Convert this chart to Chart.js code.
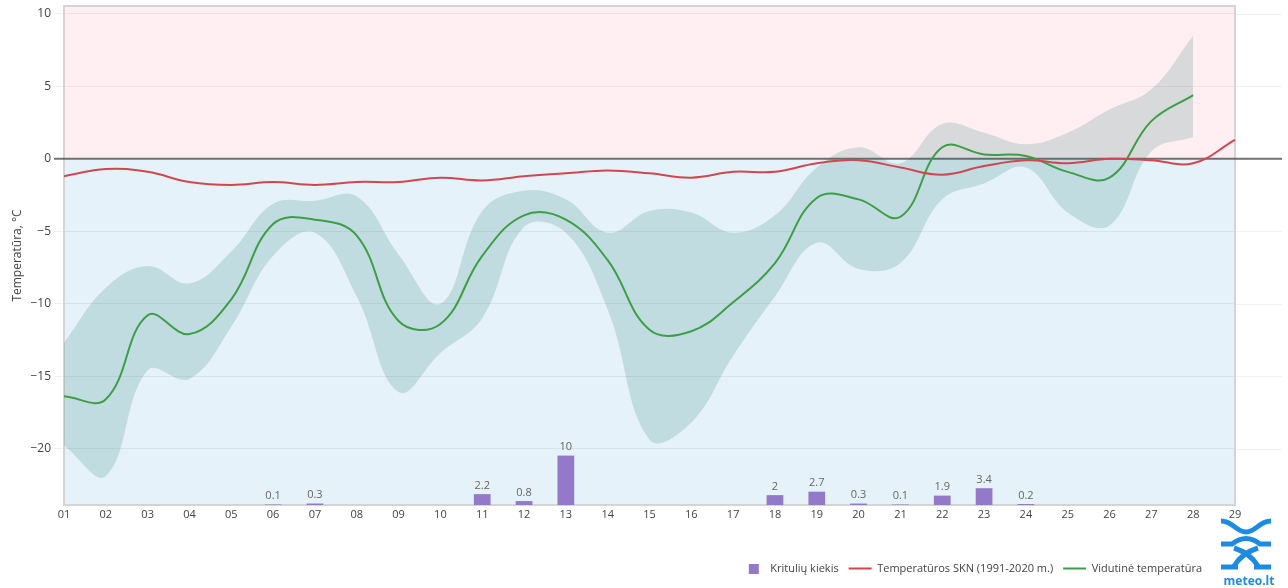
<!DOCTYPE html>
<html>
<head>
<title>Temperatūra ir krituliai</title>
<script src="https://cdn.jsdelivr.net/npm/chart.js"></script>
<style>
  body { margin: 0; background: #fff; }
</style>
</head>
<body>
<canvas id="tempChart" width="1288" height="588"></canvas>
<script>
// Dienos
const days = ['01','02','03','04','05','06','07','08','09','10','11','12','13','14','15',
              '16','17','18','19','20','21','22','23','24','25','26','27','28','29'];

// Kritulių kiekis, mm
const precip = [0, 0, 0, 0, 0, 0.1, 0.3, 0, 0, 0, 2.2, 0.8, 10, 0, 0,
                0, 0, 2, 2.7, 0.3, 0.1, 1.9, 3.4, 0.2, 0, 0, 0, 0, 0];

// Temperatūros SKN (1991-2020 m.)
const normTemp = [-1.2, -0.7, -0.9, -1.6, -1.8, -1.6, -1.8, -1.6, -1.6, -1.3, -1.5, -1.2, -1.0, -0.8, -1.0,
                  -1.3, -0.9, -0.9, -0.3, -0.1, -0.6, -1.1, -0.5, -0.1, -0.3, 0.0, -0.1, -0.3, 1.3];

// Vidutinė temperatūra
const meanTemp = [-16.4, -16.6, -10.8, -12.1, -9.7, -4.5, -4.2, -5.3, -11.2, -11.4, -6.7, -3.9, -4.2, -7.0, -11.8,
                  -11.9, -9.9, -7.2, -2.7, -2.8, -4.0, 0.8, 0.3, 0.2, -0.9, -1.3, 2.6, 4.4, null];

// Maksimali / minimali temperatūra (juosta)
const maxTemp = [-12.7, -8.9, -7.4, -8.6, -6.4, -3.1, -2.9, -2.6, -6.6, -10.0, -3.6, -2.2, -2.8, -5.1, -3.6,
                 -3.7, -5.1, -3.9, -0.6, 0.8, -0.3, 2.4, 1.8, 1.0, 1.8, 3.4, 4.8, 8.5, null];
const minTemp = [-19.8, -21.9, -14.6, -15.2, -11.6, -6.7, -5.1, -9.5, -16.1, -13.4, -11.0, -4.7, -5.1, -10.4, -19.4,
                 -18.2, -13.6, -9.5, -5.8, -7.6, -7.2, -2.8, -1.7, -0.6, -3.7, -4.6, 0.5, 1.5, null];

const yTicks = [-20, -15, -10, -5, 0, 5, 10];

const barColor = '#9479c9';
const minus = v => (v < 0 ? '\u2212' + Math.abs(v) : String(v));

// legendos kvadratėlis krituliams
const legendSquare = document.createElement('canvas');
legendSquare.width = 23;
legendSquare.height = 10;
const sqCtx = legendSquare.getContext('2d');
sqCtx.fillStyle = barColor;
sqCtx.fillRect(7, 0, 10, 10);

// fonas, tinklelis, nulio linija, stulpelių reikšmės, logotipas
const decorPlugin = {
    id: 'decor',
    afterLayout(chart) {
        // legenda baigiasi prieš logotipą
        chart.legend.left -= 23;
        chart.legend.right -= 23;
    },
    beforeDraw(chart) {
        const {ctx, chartArea: a, scales: {y}} = chart;
        const z = y.getPixelForValue(0);
        ctx.save();
        ctx.fillStyle = '#ffeef2';
        ctx.fillRect(a.left, a.top, a.width, z - a.top);
        ctx.fillStyle = '#e5f2f9';
        ctx.fillRect(a.left, z, a.width, a.bottom - z);
        ctx.restore();
    },
    beforeDatasetsDraw(chart) {
        const {ctx, chartArea: a, scales: {y}} = chart;
        ctx.save();
        ctx.strokeStyle = 'rgba(0,0,0,0.06)';
        ctx.lineWidth = 1;
        yTicks.forEach(t => {
            const py = Math.round(y.getPixelForValue(t)) + 0.5;
            ctx.beginPath();
            ctx.moveTo(a.right, py);
            ctx.lineTo(chart.width - 6, py);
            ctx.stroke();
        });
        ctx.strokeStyle = '#d4d4d4';
        ctx.lineWidth = 2;
        ctx.strokeRect(a.left, a.top, a.width, a.height);
        const z = y.getPixelForValue(0);
        ctx.strokeStyle = 'rgba(70,70,70,0.75)';
        ctx.lineWidth = 2;
        ctx.beginPath();
        ctx.moveTo(a.left - 10, z);
        ctx.lineTo(chart.width - 6, z);
        ctx.stroke();
        ctx.restore();
    },
    afterDatasetsDraw(chart) {
        const {ctx} = chart;
        const meta = chart.getDatasetMeta(0);
        ctx.save();
        ctx.font = '11px "Open Sans"';
        ctx.fillStyle = '#666';
        ctx.textAlign = 'center';
        ctx.textBaseline = 'bottom';
        meta.data.forEach((bar, i) => {
            if (precip[i] > 0) ctx.fillText(String(precip[i]), bar.x, bar.y - 3);
        });
        ctx.restore();
    },
    afterDraw(chart) {
        const {ctx} = chart;
        ctx.save();
        ctx.strokeStyle = '#1e8be3';
        ctx.lineWidth = 5;
        ctx.beginPath();
        ctx.moveTo(1221, 521);
        ctx.bezierCurveTo(1233, 521, 1236, 532, 1246, 532);
        ctx.bezierCurveTo(1256, 532, 1259, 521, 1271, 521);
        ctx.stroke();
        ctx.beginPath();
        ctx.moveTo(1221, 544);
        ctx.lineTo(1232, 544);
        ctx.quadraticCurveTo(1246, 533, 1260, 544);
        ctx.lineTo(1271, 544);
        ctx.stroke();
        ctx.beginPath();
        ctx.moveTo(1234, 548);
        ctx.quadraticCurveTo(1250, 553, 1258, 566);
        ctx.moveTo(1258, 548);
        ctx.quadraticCurveTo(1242, 553, 1234, 566);
        ctx.stroke();
        ctx.beginPath();
        ctx.moveTo(1221, 567);
        ctx.lineTo(1238, 567);
        ctx.moveTo(1254, 567);
        ctx.lineTo(1271, 567);
        ctx.stroke();
        ctx.font = 'bold 12px "Open Sans"';
        ctx.fillStyle = '#1e8be3';
        ctx.textAlign = 'center';
        ctx.textBaseline = 'alphabetic';
        ctx.fillText('meteo.lt', 1249, 585);
        ctx.restore();
    }
};

new Chart(document.getElementById('tempChart'), {
    type: 'bar',
    data: {
        labels: days,
        datasets: [{
            type: 'bar',
            label: 'Kritulių kiekis',
            data: precip,
            yAxisID: 'y2',
            backgroundColor: barColor,
            borderWidth: 0,
            barPercentage: 0.4,
            categoryPercentage: 1,
            order: 0
        }, {
            type: 'line',
            label: 'Temperatūros SKN (1991-2020 m.)',
            data: normTemp,
            borderColor: '#d2474f',
            borderWidth: 2,
            pointRadius: 0,
            tension: 0.4,
            fill: false,
            order: 1
        }, {
            type: 'line',
            label: 'Vidutinė temperatūra',
            data: meanTemp,
            borderColor: '#3c9e45',
            borderWidth: 2,
            pointRadius: 0,
            tension: 0.4,
            fill: false,
            order: 2
        }, {
            type: 'line',
            label: 'max',
            data: maxTemp,
            borderWidth: 0,
            borderColor: 'rgba(0,0,0,0)',
            backgroundColor: 'rgba(20,110,100,0.17)',
            pointRadius: 0,
            tension: 0.4,
            fill: '+1',
            order: 3
        }, {
            type: 'line',
            label: 'min',
            data: minTemp,
            borderWidth: 0,
            borderColor: 'rgba(0,0,0,0)',
            pointRadius: 0,
            tension: 0.4,
            fill: false,
            order: 4
        }]
    },
    options: {
        responsive: false,
        animation: false,
        layout: { padding: { top: 6, right: 53, bottom: 4, left: 0 } },
        plugins: {
            legend: {
                position: 'bottom',
                align: 'end',
                labels: {
                    usePointStyle: true,
                    pointStyleWidth: 23,
                    color: '#444',
                    font: { family: 'Open Sans', size: 11 },
                    padding: 10,
                    filter: item => item.text !== 'max' && item.text !== 'min',
                    generateLabels: chart => Chart.defaults.plugins.legend.labels.generateLabels(chart).map(l => {
                        l.pointStyle = l.datasetIndex === 0 ? legendSquare : 'line';
                        return l;
                    })
                }
            },
            tooltip: { enabled: false }
        },
        scales: {
            x: {
                offset: false,
                grid: { display: false, drawTicks: false },
                border: { display: false },
                ticks: {
                    color: '#444',
                    font: { family: 'Open Sans', size: 11 },
                    maxRotation: 0,
                    autoSkip: false,
                    padding: 3
                },
                afterFit: s => { s.height = 48; }
            },
            y: {
                min: -23.9,
                max: 10.55,
                grid: { color: 'rgba(0,0,0,0.06)', tickLength: 10 },
                border: { display: false },
                ticks: {
                    stepSize: 5,
                    includeBounds: false,
                    color: '#444',
                    font: { family: 'Open Sans', size: 12 },
                    padding: 3,
                    callback: v => minus(v)
                },
                title: {
                    display: true,
                    text: 'Temperatūra, °C',
                    color: '#444',
                    font: { family: 'Open Sans', size: 12 },
                    padding: { top: 10, bottom: 0 }
                },
                afterFit: s => {
                    s.width = 64;
                    s.paddingTop = 0;
                    s.paddingBottom = 0;
                }
            },
            y2: {
                display: false,
                min: 0,
                max: 101
            }
        }
    },
    plugins: [decorPlugin]
});
</script>
</body>
</html>
